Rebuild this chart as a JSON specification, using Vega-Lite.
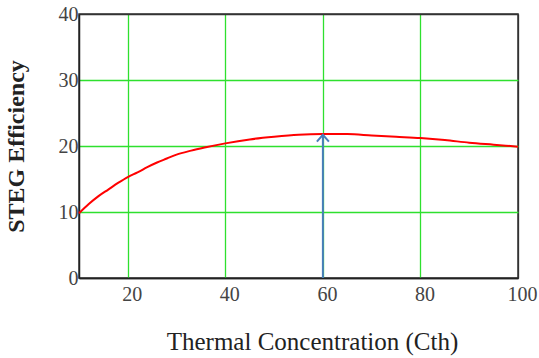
{
  "$schema": "https://vega.github.io/schema/vega-lite/v6.json",
  "width": 439,
  "height": 264,
  "autosize": "none",
  "padding": {"left": 79, "top": 14, "right": 21, "bottom": 80},
  "background": "white",
  "config": {
    "view": {"stroke": "#333", "strokeWidth": 1.5},
    "axis": {
      "labelFont": "Liberation Serif",
      "titleFont": "Liberation Serif",
      "labelColor": "#444",
      "titleColor": "#222",
      "ticks": false,
      "labelFlush": false,
      "domainColor": "#222",
      "domainWidth": 1.5,
      "gridWidth": 1.3,
      "gridOpacity": 1
    }
  },
  "datasets": {
    "curve": [
      {"x": 10, "y": 9.8}, {"x": 12, "y": 11.2}, {"x": 14, "y": 12.4}, {"x": 16, "y": 13.4},
      {"x": 18, "y": 14.4}, {"x": 20, "y": 15.3}, {"x": 22, "y": 16.0}, {"x": 24, "y": 16.8},
      {"x": 26, "y": 17.5}, {"x": 28, "y": 18.1}, {"x": 30, "y": 18.7}, {"x": 33, "y": 19.3},
      {"x": 36, "y": 19.8}, {"x": 40, "y": 20.4}, {"x": 45, "y": 21.0}, {"x": 50, "y": 21.4},
      {"x": 55, "y": 21.7}, {"x": 60, "y": 21.8}, {"x": 65, "y": 21.8}, {"x": 70, "y": 21.6},
      {"x": 75, "y": 21.4}, {"x": 80, "y": 21.2}, {"x": 85, "y": 20.9}, {"x": 90, "y": 20.5},
      {"x": 95, "y": 20.2}, {"x": 100, "y": 19.9}
    ],
    "arrow": [{"x": 60, "y": 0, "y2": 21.7}]
  },
  "layer": [
    {
      "data": {"name": "curve"},
      "mark": {"type": "line", "color": "#ff0000", "strokeWidth": 2, "interpolate": "monotone"},
      "encoding": {
        "x": {
          "field": "x", "type": "quantitative",
          "scale": {"domain": [10, 100], "nice": false},
          "axis": {
            "values": [20, 40, 60, 80, 100],
            "grid": true,
            "gridColor": {"condition": {"test": "datum.value === 100", "value": "#333"}, "value": "#2ee02e"},
            "labelFont": "Liberation Serif",
            "labelFontSize": 20,
            "labelPadding": 6,
            "labelOffset": 4,
            "labelFlush": false,
            "labelOverlap": false,
            "title": "Thermal Concentration (Cth)",
            "titleFont": "Liberation Serif",
            "titleFontSize": 25,
            "titleFontWeight": "normal",
            "titlePadding": 25,
            "titleAnchor": "middle",
            "titleX": 233
          }
        },
        "y": {
          "field": "y", "type": "quantitative",
          "scale": {"domain": [0, 40], "nice": false},
          "axis": {
            "values": [0, 10, 20, 30, 40],
            "grid": true,
            "gridColor": {"condition": {"test": "datum.value === 0 || datum.value === 40", "value": "#333"}, "value": "#2ee02e"},
            "labelFont": "Liberation Serif",
            "labelFontSize": 20,
            "labelPadding": 1,
            "labelDy": 2,
            "labelFlush": false,
            "labelOverlap": false,
            "title": "STEG Efficiency",
            "titleFont": "Liberation Serif",
            "titleFontSize": 24,
            "titleFontWeight": "bold",
            "titlePadding": 30
          }
        }
      }
    },
    {
      "data": {"name": "arrow"},
      "mark": {"type": "rule", "color": "#4a7ebb", "strokeWidth": 2},
      "encoding": {
        "x": {"field": "x", "type": "quantitative"},
        "y": {"field": "y", "type": "quantitative"},
        "y2": {"field": "y2"}
      }
    },
    {
      "data": {"name": "arrow"},
      "mark": {"type": "point", "shape": "M-1,1.15L0,0L1,1.15", "size": 144, "filled": false, "stroke": "#4a7ebb", "strokeWidth": 2, "opacity": 1},
      "encoding": {
        "x": {"field": "x", "type": "quantitative"},
        "y": {"field": "y2", "type": "quantitative"}
      }
    }
  ]
}
